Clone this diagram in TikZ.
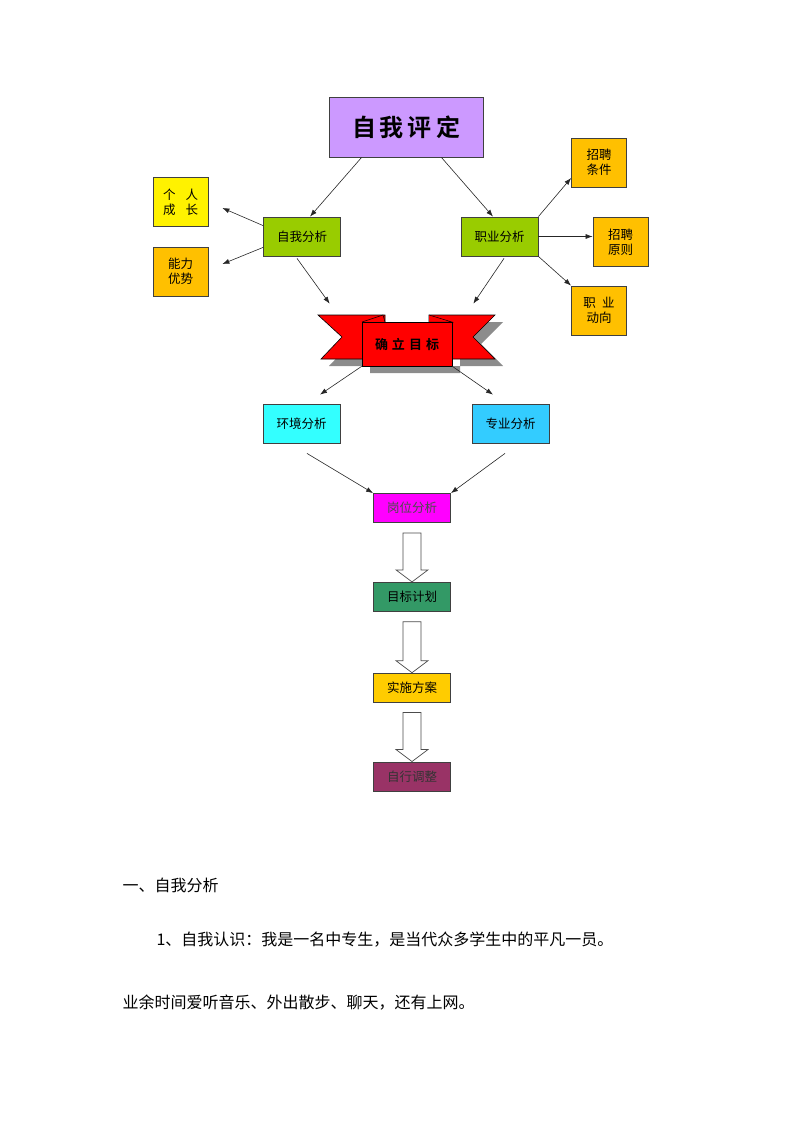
\documentclass[tikz,border=0pt]{standalone}
\usepackage{fontspec}
\usepackage{xcolor}
\usepackage{tikz}
\usetikzlibrary{arrows.meta, positioning, calc, backgrounds}
\newfontfamily\cjk[BoldFont={Noto Sans CJK SC Bold}]{Noto Sans CJK SC}

\definecolor{pingding}{HTML}{CC99FF}
\definecolor{fenxi}{HTML}{99CC00}
\definecolor{jinhuang}{HTML}{FFC000}
\definecolor{qing}{HTML}{33FFFF}
\definecolor{tianlan}{HTML}{33CCFF}
\definecolor{yanghong}{HTML}{FF00FF}
\definecolor{molv}{HTML}{339966}
\definecolor{chenghuang}{HTML}{FFCC00}
\definecolor{meigui}{HTML}{993366}

% ribbon tails, drawn round the centre of the target node
\newcommand{\ribbontails}{(-89,-29) -- (-22,-29) -- (-22,15) -- (-86,15) -- (-65,-7) -- cycle
  (22,-29) -- (88,-29) -- (66,-7) -- (88,15) -- (22,15) -- cycle}
% hollow block arrow from one box down to the next
\newcommand{\hollowarrow}[2]{%
  \draw[fill=white, draw=black!70, line width=0.7pt]
    ($(#1.south)+(-9,10)$) -- ($(#1.south)+(9,10)$) -- ($(#2.north)+(9,-12)$)
    -- ($(#2.north)+(16,-12)$) -- (#2.north) -- ($(#2.north)+(-16,-12)$)
    -- ($(#2.north)+(-9,-12)$) -- cycle;}

\begin{document}
\begin{tikzpicture}[
	  x=1pt, y=-1pt,
	  font={\cjk\fontsize{12.5}{15}\selectfont},
	  node distance=59pt,
	  box/.style={
	    draw=black!75,
	    line width=0.8pt,
	    align=center,
	    inner sep=1pt
	  },
	  small/.style={box, minimum width=55, minimum height=49},
	  mid/.style={box, minimum width=77, minimum height=39},
	  low/.style={box, minimum width=77, minimum height=29},
	  arrow/.style={-{Latex[length=7pt,width=5pt]}, line width=0.6pt, black!85},
	  para/.style={anchor=west, font={\cjk\fontsize{16}{19}\selectfont}}
	]
	\path[use as bounding box] (0,0) rectangle (800,1132);
	
	\node[box, fill=pingding, minimum width=154, minimum height=60, font={\cjk\bfseries\fontsize{24}{28}\selectfont}] (zwpd) at (406,127) {自\hspace{4pt}我\hspace{4pt}评\hspace{4pt}定};
	
	\node[mid, fill=fenxi] (zwfx) at (302,236.5) {自我分析};
	\node[mid, fill=fenxi] (zyfx) at (499.5,236.5) {职业分析};
	\node[small, fill=yellow] (grcz) at (180.5,202) {个\hspace{0.8em}人\\成\hspace{0.8em}长};
	\node[small, fill=jinhuang] (nlys) at (180.5,271.5) {能力\\优势};
	\node[small, fill=jinhuang] (zptj) at (599,162.5) {招聘\\条件};
	\node[small, fill=jinhuang] (zpyz) at (620.5,242) {招聘\\原则};
	\node[small, fill=jinhuang] (zydx) at (599,310.5) {职\hspace{0.5em}业\\动向};
	
	\node[draw=black, line width=0.6pt, fill=red, minimum width=90, minimum height=44, font={\cjk\bfseries\fontsize{13}{15}\selectfont}] (qdmb) at (407,344) {\raisebox{-5pt}{确\hspace{4pt}立\hspace{4pt}目\hspace{4pt}标}};
	\begin{scope}[on background layer, shift={(qdmb.center)}]
	  \fill[black!45, shift={(8,7)}] \ribbontails (-45,-22) rectangle (45,22);
	  \filldraw[fill=red, draw=black, line width=0.6pt] \ribbontails;
	  \filldraw[fill=red, draw=black, line width=0.5pt] (-45,-22) -- (-24,-29) -- (-22,-22) (22,-29) -- (45,-22) -- (22,-22);
	\end{scope}
	
	\node[mid, fill=qing] (hjfx) at (301.5,423.5) {环境分析};
	\node[mid, fill=tianlan] (zhfx) at (510.5,423.5) {专业分析};
	\node[low, fill=yanghong, text=black!70] (gwfx) at (412,508) {岗位分析};
	\node[low, fill=molv, below=of gwfx] (mbjh) {目标计划};
	\node[low, fill=chenghuang, below=61pt of mbjh] (sssfa) {实施方案};
	\node[low, fill=meigui, text=black!80, below=of sssfa] (zxtz) {自行调整};
	
	\draw[arrow] ($(zwpd.south west)+(33,0)$) -- ($(zwfx.north)+(8,0)$);
	\draw[arrow] ($(zwpd.south east)+(-42,0)$) -- ($(zyfx.north)+(-6.5,0)$);
	\draw[arrow] ($(zwfx.north west)+(0,9)$) -- ($(grcz.east)+(14,6)$);
	\draw[arrow] ($(zwfx.south west)+(0,-9)$) -- ($(nlys.east)+(14,-7.5)$);
	\draw[arrow] ($(zwfx.south)+(-5,2)$) -- ($(qdmb.north west)+(-32,-18)$);
	\draw[arrow] ($(zyfx.south)+(4.5,2)$) -- ($(qdmb.north east)+(21,-18)$);
	\draw[arrow] (zyfx.north east) -- ($(zptj.west)+(0,15.5)$);
	\draw[arrow] (zyfx.east) -- (zpyz.west |- zyfx.east);
	\draw[arrow] (zyfx.south east) -- (zydx.north west);
	\draw[arrow] (qdmb.south west) -- ($(hjfx.north)+(18.5,-9)$);
	\draw[arrow] (qdmb.south east) -- ($(zhfx.north)+(-17.5,-9)$);
	\draw[arrow] ($(hjfx.south)+(5.5,10)$) -- (gwfx.north west);
	\draw[arrow] ($(zhfx.south)+(-5.5,10)$) -- (gwfx.north east);
	
	\hollowarrow{gwfx}{mbjh}
	\hollowarrow{mbjh}{sssfa}
	\hollowarrow{sssfa}{zxtz}
	
	\node[para] (bt) at (119,885) {一、自我分析};
	\node[para] (zwrs) at (153,940) {1、自我认识：我是一名中专生，是当代众多学生中的平凡一员。};
	\node[para] (yysj) at (119,1003) {业余时间爱听音乐、外出散步、聊天，还有上网。};
	
	\end{tikzpicture}
\end{document}
